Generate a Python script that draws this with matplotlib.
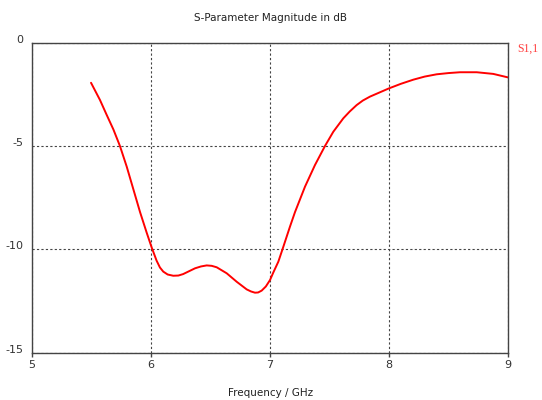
import matplotlib
matplotlib.use("Agg")
import matplotlib.pyplot as plt

# S11 magnitude samples (GHz, dB)
freq_ghz = [5.496, 5.571, 5.628, 5.684, 5.739, 5.796, 5.852, 5.908, 5.964, 6.005,
            6.047, 6.075, 6.103, 6.14, 6.187, 6.23, 6.27, 6.37, 6.42, 6.468, 6.51,
            6.552, 6.636, 6.72, 6.804, 6.84, 6.874, 6.90, 6.93, 6.965, 7.0,
            7.028, 7.07, 7.105, 7.168, 7.21, 7.294, 7.378, 7.462, 7.532, 7.616,
            7.67, 7.728, 7.78, 7.84, 7.924, 8.0, 8.10, 8.204, 8.30, 8.40, 8.50, 8.597,
            8.737, 8.876, 9.0]
s11_db = [-1.94, -2.77, -3.50, -4.20, -5.00, -6.00, -7.10, -8.20, -9.20, -9.90,
          -10.55, -10.88, -11.08, -11.22, -11.28, -11.27, -11.20, -10.92, -10.83, -10.78, -10.80,
          -10.87, -11.16, -11.57, -11.94, -12.04, -12.10, -12.09, -12.00, -11.80, -11.49,
          -11.12, -10.60, -10.00, -8.90, -8.20, -6.97, -5.92, -5.00, -4.31, -3.66,
          -3.33, -3.02, -2.80, -2.61, -2.40, -2.21, -1.99, -1.79, -1.64, -1.53, -1.47, -1.43,
          -1.43, -1.51, -1.68]

x_ticks = [5, 6, 7, 8, 9]
y_ticks = [0, -5, -10, -15]

fig = plt.figure(figsize=(5.42, 4.00), dpi=100)
ax = fig.add_axes([32 / 542, 1 - 352.6 / 400, (508 - 32) / 542, (352.6 - 42.7) / 400])

ax.plot(freq_ghz, s11_db, color="#ff0000", lw=1.4, solid_capstyle="round",
        solid_joinstyle="round")

ax.set_xlim(5, 9)
ax.set_ylim(-15, 0)
ax.set_xticks(x_ticks)
ax.set_yticks(y_ticks)
ax.set_xticklabels([str(t) for t in x_ticks])
# y labels sit on their grid lines
ax.set_yticklabels([str(t) for t in y_ticks], va="baseline")

ax.grid(True, color="#444444", linestyle=(0, (2, 2)), linewidth=0.8)
for s in ax.spines.values():
    s.set_color("#444444")
    s.set_linewidth(1.0)

ax.tick_params(axis="x", direction="out", length=3, width=1, color="#444444",
               labelsize=8, labelcolor="#333333", pad=2)
ax.tick_params(axis="y", length=0, labelsize=8, labelcolor="#333333", pad=6)

fig.text(0.5, 1 - 18 / 400, "S-Parameter Magnitude in dB", ha="center", va="center",
         fontsize=7.5, color="#222222")
fig.text(0.5, 1 - 393 / 400, "Frequency / GHz", ha="center", va="center",
         fontsize=7.5, color="#222222")
fig.text(517 / 542, 1 - 49 / 400, "S1,1", ha="left", va="center", fontsize=8.5,
         color="#ff4040", family="Liberation Serif")

fig.savefig("out.png", dpi=100, facecolor="white")
